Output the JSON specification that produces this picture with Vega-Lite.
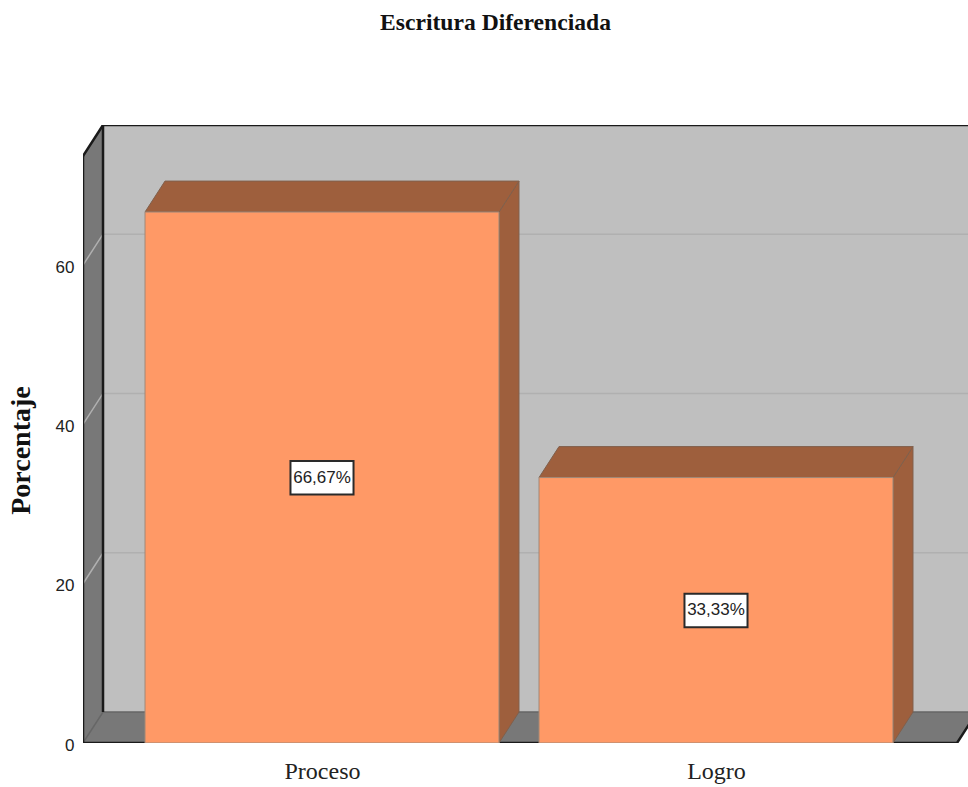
{
"$schema":"https://vega.github.io/schema/vega-lite/v6.json",
"width":885,"height":618,
"autosize":{"type":"none"},
"padding":{"left":83,"top":125,"right":0,"bottom":44},
"background":"white",
"title":{"text":"Escritura Diferenciada","font":"Liberation Serif","fontSize":23.6,"fontWeight":"bold","color":"#111","anchor":"middle","dx":-30,"offset":90},
"config":{"view":{"stroke":null}},
"datasets":{
"planes":[
{"part":"wall","x":0.4442,"y":3.89,"y2":77.6},
{"part":"wall","x":2.6396,"y":3.89,"y2":77.6},
{"part":"left","x":0.3934,"y":0,"y2":73.7},
{"part":"left","x":0.4442,"y":3.89,"y2":77.6},
{"part":"floor","x":0.3934,"y":0,"y2":0},
{"part":"floor","x":0.4442,"y":0,"y2":3.89},
{"part":"floor","x":2.6117,"y":0,"y2":3.89},
{"part":"floor","x":2.6624,"y":3.89,"y2":3.89}
],
"lines":[
{"k":"g20","seq":1,"x":0.3934,"y":20},{"k":"g20","seq":2,"x":0.4442,"y":23.89},{"k":"g20","seq":3,"x":2.6396,"y":23.89},
{"k":"g40","seq":1,"x":0.3934,"y":40},{"k":"g40","seq":2,"x":0.4442,"y":43.89},{"k":"g40","seq":3,"x":2.6396,"y":43.89},
{"k":"g60","seq":1,"x":0.3934,"y":60},{"k":"g60","seq":2,"x":0.4442,"y":63.89},{"k":"g60","seq":3,"x":2.6396,"y":63.89}
],
"floorline":[
{"k":"f","seq":1,"x":0.3934,"y":0},{"k":"f","seq":2,"x":0.4442,"y":3.89},{"k":"f","seq":3,"x":2.6396,"y":3.89}
],
"outline":[
{"k":"a","seq":1,"x":0.3934,"y":73.7},{"k":"a","seq":2,"x":0.3934,"y":0},{"k":"a","seq":3,"x":2.6117,"y":0},{"k":"a","seq":4,"x":2.6624,"y":3.89},
{"k":"b","seq":1,"x":0.3934,"y":73.7},{"k":"b","seq":2,"x":0.4442,"y":77.6},{"k":"b","seq":3,"x":2.6396,"y":77.6},
{"k":"c","seq":1,"x":0.4442,"y":77.6},{"k":"c","seq":2,"x":0.4442,"y":3.89}
],
"bars":[
{"part":"side1","x":1.4492,"y":0,"y2":66.67},
{"part":"side1","x":1.5,"y":3.89,"y2":70.56},
{"part":"top1","x":0.5508,"y":66.67,"y2":66.67},
{"part":"top1","x":0.6015,"y":66.67,"y2":70.56},
{"part":"top1","x":1.4492,"y":66.67,"y2":70.56},
{"part":"top1","x":1.5,"y":70.56,"y2":70.56},
{"part":"front1","x":0.5508,"y":0,"y2":66.67},
{"part":"front1","x":1.4492,"y":0,"y2":66.67},
{"part":"side2","x":2.4492,"y":0,"y2":33.33},
{"part":"side2","x":2.5,"y":3.89,"y2":37.22},
{"part":"top2","x":1.5508,"y":33.33,"y2":33.33},
{"part":"top2","x":1.6015,"y":33.33,"y2":37.22},
{"part":"top2","x":2.4492,"y":33.33,"y2":37.22},
{"part":"top2","x":2.5,"y":37.22,"y2":37.22},
{"part":"front2","x":1.5508,"y":0,"y2":33.33},
{"part":"front2","x":2.4492,"y":0,"y2":33.33}
],
"labels":[
{"cat":"Proceso","x":1,"x1":0.92,"x2":1.08,"mid":33.33,"lo":31.2,"hi":35.4,"label":"66,67%"},
{"cat":"Logro","x":2,"x1":1.92,"x2":2.08,"mid":16.67,"lo":14.55,"hi":18.75,"label":"33,33%"}
]
},
"layer":[
{"data":{"name":"planes"},"mark":{"type":"area","clip":true,"strokeWidth":1},
"encoding":{
"x":{"field":"x","type":"quantitative","scale":{"domain":[0.3934,2.6396],"nice":false,"zero":false},
"axis":{"title":null,"values":[1,2],"labelExpr":"datum.value==1?'Proceso':'Logro'","ticks":false,"domain":false,"grid":false,"labelFont":"Liberation Serif","labelFontSize":24,"labelColor":"#222","labelPadding":16}},
"y":{"field":"y","type":"quantitative","stack":null,"scale":{"domain":[0,77.6],"nice":false,"zero":false},
"axis":{"title":"Porcentaje","values":[0,20,40,60],"ticks":false,"domain":false,"grid":false,"labelFont":"Liberation Sans","labelFontSize":17,"labelColor":"#222","labelPadding":9,"labelOffset":2,"labelFlush":false,"titleFont":"Liberation Serif","titleFontSize":28,"titleFontWeight":"bold","titleColor":"#111","titleX":-48,"titleY":325,"titleAlign":"center","titleAnchor":null}},
"y2":{"field":"y2"},
"color":{"field":"part","type":"nominal","legend":null,"scale":{"domain":["wall","left","floor"],"range":["#bfbfbf","#787878","#787878"]}}
}},
{"data":{"name":"floorline"},"mark":{"type":"line","clip":true,"color":"#666666","strokeWidth":1.5},
"encoding":{"x":{"field":"x","type":"quantitative"},"y":{"field":"y","type":"quantitative"},"detail":{"field":"k"},"order":{"field":"seq"}}},
{"data":{"name":"lines"},"mark":{"type":"line","clip":true,"color":"#b0b0b0","strokeWidth":1.5},
"encoding":{"x":{"field":"x","type":"quantitative"},"y":{"field":"y","type":"quantitative"},"detail":{"field":"k"},"order":{"field":"seq"}}},
{"data":{"name":"outline"},"mark":{"type":"line","clip":true,"color":"#1a1a1a","strokeWidth":2.5},
"encoding":{"x":{"field":"x","type":"quantitative"},"y":{"field":"y","type":"quantitative"},"detail":{"field":"k"},"order":{"field":"seq"}}},
{"data":{"name":"bars"},"mark":{"type":"area","clip":true,"strokeWidth":1},
"encoding":{
"x":{"field":"x","type":"quantitative"},
"y":{"field":"y","type":"quantitative","stack":null},
"y2":{"field":"y2"},
"color":{"field":"part","type":"nominal","legend":null,"scale":{"domain":["side1","top1","front1","side2","top2","front2"],"range":["#9e5f3d","#9e5f3d","#ff9966","#9e5f3d","#9e5f3d","#ff9966"]}},
"stroke":{"field":"part","type":"nominal","legend":null,"scale":{"domain":["side1","top1","front1","side2","top2","front2"],"range":["#80604c","#80604c","#a08878","#80604c","#80604c","#a08878"]}}
}},
{"data":{"name":"labels"},"mark":{"type":"rect","fill":"white","stroke":"#2a2a2a","strokeWidth":2},
"encoding":{"x":{"field":"x1","type":"quantitative"},"x2":{"field":"x2"},"y":{"field":"lo","type":"quantitative"},"y2":{"field":"hi"}}},
{"data":{"name":"labels"},"mark":{"type":"text","font":"Liberation Sans","fontSize":17,"color":"#222","align":"center","baseline":"middle"},
"encoding":{"x":{"field":"x","type":"quantitative"},"y":{"field":"mid","type":"quantitative"},"text":{"field":"label"}}}
],
"resolve":{"scale":{"color":"independent","stroke":"independent"}}
}
